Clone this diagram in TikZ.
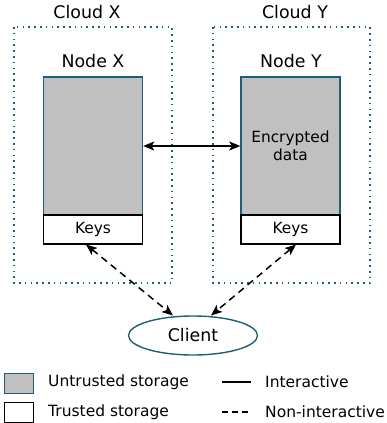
\documentclass[tikz,border=0pt]{standalone}
\usepackage{fontspec}
\setmainfont{DejaVu Sans}
\usetikzlibrary{arrows.meta,shapes.geometric}
\definecolor{teal1}{HTML}{1E5F74}
\definecolor{grayfill}{HTML}{C0C0C0}
\tikzset{
  cloudbox/.style={draw=teal1,line width=1.6pt,dash pattern=on 1.6pt off 4.2pt},
  untrusted/.style={draw=teal1,fill=grayfill,line width=1.4pt,minimum width=99pt,minimum height=138pt,inner sep=0pt,align=center,font=\fontsize{15.4}{18.5}\selectfont},
  keysbox/.style={draw=black,fill=white,line width=1.7pt,minimum width=99pt,minimum height=29pt,inner sep=0pt,font=\fontsize{15.4}{18}\selectfont},
  bigtxt/.style={font=\fontsize{17.4}{20}\selectfont,inner sep=0pt},
  smalltxt/.style={font=\fontsize{15.5}{18}\selectfont,inner sep=0pt},
  arr/.style={line width=1.5pt,{Stealth[length=11pt,width=9pt,inset=2.5pt]}-{Stealth[length=11pt,width=9pt,inset=2.5pt]}},
  dasharr/.style={arr,dash pattern=on 7pt off 5pt},
}
\begin{document}
\begin{tikzpicture}[x=1pt,y=-1pt]
\useasboundingbox (0,0) rectangle (386,423);
% clouds
\draw[cloudbox] (14,27) rectangle (172,283);
\draw[cloudbox] (213,27) rectangle (370,283);
\node[bigtxt] (cx) at (87,12) {Cloud X};
\node[bigtxt] (cy) at (295,12) {Cloud Y};
\node[bigtxt] (nx) at (93,61) {Node X};
\node[bigtxt] (ny) at (291,61) {Node Y};
% nodes
\node[untrusted] (bx) at (93,146) {};
\node[untrusted] (by) at (290.5,146) {Encrypted\\data};
\node[keysbox] (kx) at (93,229.5) {Keys};
\node[keysbox] (ky) at (290.5,229.5) {Keys};
% client
\node[draw=teal1,line width=1.4pt,ellipse,minimum width=129pt,minimum height=39pt,inner sep=0pt,font=\fontsize{17.4}{20}\selectfont] (cl) at (193,335.5) {Client};
% arrows
\draw[arr] (bx.east) -- (by.west);
\coordinate (kxb) at (86,244.5);
\coordinate (kyb) at (296,244.5);
\coordinate (clx) at (173,315.5);
\coordinate (cly) at (211,315.5);
\draw[dasharr] (kxb) -- (clx);
\draw[dasharr] (kyb) -- (cly);
% legend
\node[draw=teal1,fill=grayfill,line width=1pt,minimum width=29pt,minimum height=20pt,inner sep=0pt] (lg) at (18.5,383) {};
\node[draw=black,fill=white,line width=1pt,minimum width=29pt,minimum height=20pt,inner sep=0pt] (lw) at (18.5,412) {};
\node[smalltxt,anchor=west] (lut) at (48,382) {Untrusted storage};
\node[smalltxt,anchor=west] (ltr) at (48,412) {Trusted storage};
\coordinate (la1) at (222,382);
\coordinate (la2) at (251,382);
\coordinate (lb1) at (222,412);
\coordinate (lb2) at (251,412);
\draw[line width=1.4pt] (la1) -- (la2);
\draw[line width=1.4pt,dash pattern=on 6pt off 4pt] (lb1) -- (lb2);
\node[smalltxt,anchor=west] (lin) at (265,382) {Interactive};
\node[smalltxt,anchor=west] (lni) at (265,412) {Non-interactive};
\end{tikzpicture}
\end{document}
